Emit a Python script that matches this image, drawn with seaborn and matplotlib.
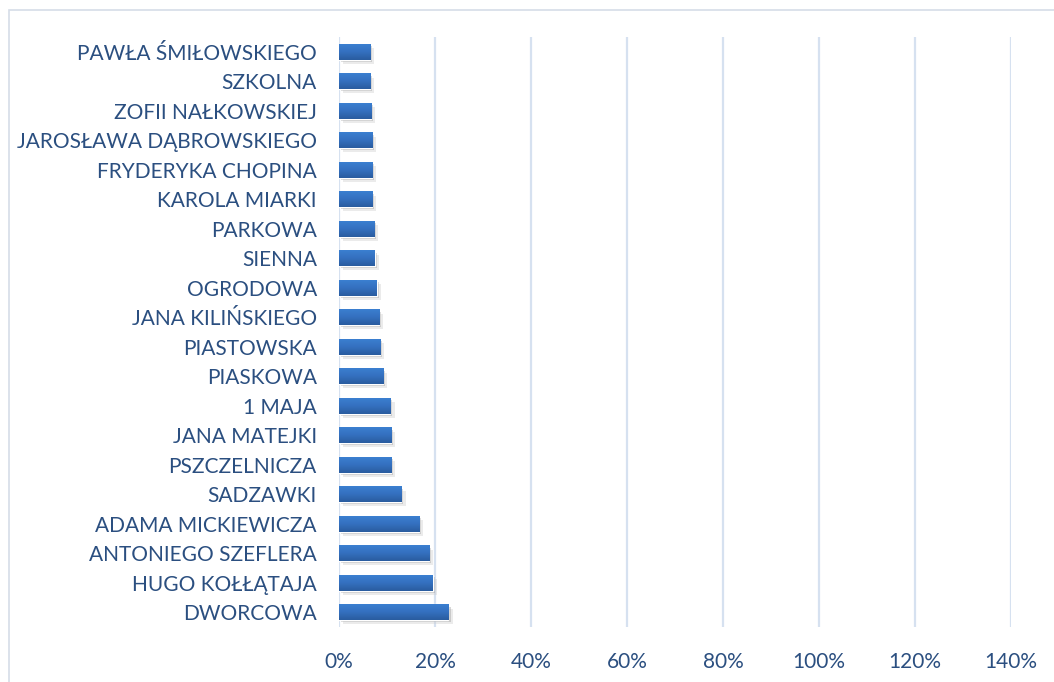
import numpy as np
import pandas as pd
import seaborn as sns
import matplotlib.pyplot as plt
import matplotlib.patheffects as pe
from matplotlib.patches import Rectangle
from matplotlib.colors import LinearSegmentedColormap
from matplotlib.ticker import PercentFormatter

streets = ["PAWŁA ŚMIŁOWSKIEGO", "SZKOLNA", "ZOFII NAŁKOWSKIEJ", "JAROSŁAWA DĄBROWSKIEGO",
           "FRYDERYKA CHOPINA", "KAROLA MIARKI", "PARKOWA", "SIENNA", "OGRODOWA",
           "JANA KILIŃSKIEGO", "PIASTOWSKA", "PIASKOWA", "1 MAJA", "JANA MATEJKI",
           "PSZCZELNICZA", "SADZAWKI", "ADAMA MICKIEWICZA", "ANTONIEGO SZEFLERA",
           "HUGO KOŁŁĄTAJA", "DWORCOWA"]
shares = [0.065, 0.065, 0.067, 0.069, 0.069, 0.069, 0.073, 0.075, 0.079, 0.084,
          0.086, 0.092, 0.107, 0.109, 0.109, 0.130, 0.167, 0.188, 0.195, 0.228]
xticks = [0, 0.2, 0.4, 0.6, 0.8, 1.0, 1.2, 1.4]

df = pd.DataFrame({"ulica": streets, "udzial": shares})

sns.set_style("white")
plt.rcParams['font.family'] = ['Lato', 'DejaVu Sans']
txt = "#2b4f80"

fig = plt.figure(figsize=(10.54, 6.82), dpi=100)
ax = fig.add_axes([339 / 1054, 1 - 627 / 682, 672 / 1054, 590 / 682])

sns.barplot(data=df, x="udzial", y="ulica", color="#3470bf", width=0.53, ax=ax,
            orient="h", zorder=3)

# gradient fill + soft shadow, like the office-style bars
grad = np.linspace(0, 1, 64).reshape(-1, 1)
cmap = LinearSegmentedColormap.from_list("b", ["#3b7fd0", "#3470bf", "#2a5c9f"])
for p in ax.patches:
    p.set_path_effects([
        pe.SimplePatchShadow(offset=(3, -3), shadow_rgbFace="#c8c8c8", alpha=0.35),
        pe.SimplePatchShadow(offset=(1.5, -1.5), shadow_rgbFace="#9a9a9a", alpha=0.4),
        pe.Normal()])
    x0, y0 = p.get_x(), p.get_y()
    w, h = p.get_width(), p.get_height()
    im = ax.imshow(grad, cmap=cmap, aspect="auto", extent=(x0, x0 + w, y0 + h, y0),
                   zorder=4, interpolation="bilinear")
    im.set_clip_path(p)

ax.set_xlim(0, 1.4)
ax.set_ylim(19.5, -0.5)
ax.set_xticks(xticks)
ax.xaxis.set_major_formatter(PercentFormatter(1.0, decimals=0))
ax.grid(axis="x", color="#d6e1f0", linewidth=1.6, zorder=0)
ax.grid(axis="y", visible=False)
for s in ax.spines.values():
    s.set_visible(False)
ax.tick_params(axis="both", length=0, labelsize=15, labelcolor=txt)
ax.tick_params(axis="y", pad=16)
ax.tick_params(axis="x", pad=18)
ax.set_xlabel("")
ax.set_ylabel("")

fig.patches.append(Rectangle((9 / 1054, -0.05), 1.1, 1 - 10 / 682 + 0.05, transform=fig.transFigure,
                             fill=False, edgecolor="#d5dde8", linewidth=1.2, zorder=0))

fig.savefig("out.png", dpi=100)
